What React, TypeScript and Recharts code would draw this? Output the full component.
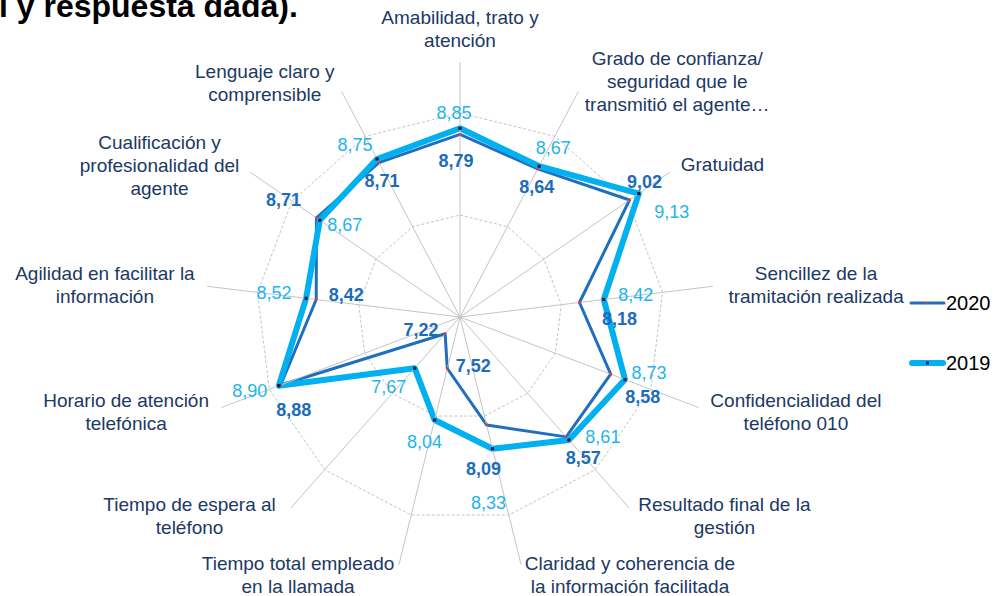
import {
  Legend,
  PolarAngleAxis,
  PolarGrid,
  PolarRadiusAxis,
  Radar,
  RadarChart,
} from "recharts";

const categories = [
  "Amabilidad, trato y\natención",
  "Grado de confianza/\nseguridad que le\ntransmitió el agente…",
  "Gratuidad",
  "Sencillez de la\ntramitación realizada",
  "Confidencialidad del\nteléfono 010",
  "Resultado final de la\ngestión",
  "Claridad y coherencia de\nla información facilitada",
  "Tiempo total empleado\nen la llamada",
  "Tiempo de espera al\nteléfono",
  "Horario de atención\ntelefónica",
  "Agilidad en facilitar la\ninformación",
  "Cualificación y\nprofesionalidad del\nagente",
  "Lenguaje claro y\ncomprensible",
];

const values2020 = [8.79, 8.64, 9.02, 8.18, 8.58, 8.57, 8.09, 7.52, 7.22, 8.88, 8.42, 8.71, 8.71];
const values2019 = [8.85, 8.67, 9.13, 8.42, 8.73, 8.61, 8.33, 8.04, 7.67, 8.9, 8.52, 8.67, 8.75];
const seriesNames = ["2020", "2019"];
const radiusDomain = [7, 10];
const gridValues = [8, 9];

const data = categories.map((name, i) => ({
  name,
  y2020: values2020[i],
  y2019: values2019[i],
}));

const FONT = '"Liberation Sans", Arial, sans-serif';
const NAVY = "#203864";
const LINE_2020 = "#1f6fc0";
const LINE_2019 = "#00b0f0";
const TEXT_2020 = "#1c6cbb";
const TEXT_2019 = "#1fb4ec";
const GRID = "#c4c4c4";

// the radius scale runs 7..10 over OUTER_R; spokes stop at 9.5
const OUTER_R = 306;
const SPOKE_R = 255;
const LABEL_R = 263;

// where the text sits relative to the axis end / the data point
const tickOffsets = [
  [0, -37], [95, -26], [46, -3], [95, -12], [90, -10], [90, -9], [107, -9],
  [-99, -9], [-96, -9], [-88, -10], [-94, -12], [-84, -25], [-73, -13],
];
const offsets2020 = [
  [-4, 27], [-1, 18], [15, -18], [40, 17], [32, 23], [17, 21], [-3, 44],
  [26, -2], [-24, -4], [13, 25], [30, -5], [-33, -18], [3, 18],
];
const offsets2019 = [
  [-6, -15], [14, -18], [33, 18], [32, -5], [24, -7], [34, -3], [-4, 54],
  [-10, 22], [-26, 19], [-29, 5], [-32, -5], [25, 5], [-22, -14],
];

const fmt = (v: number) => v.toFixed(2).replace(".", ",");

function CategoryTick(props: any) {
  const { x, y, cx, cy, index } = props;
  const len = Math.hypot(x - cx, y - cy) || 1;
  const ux = (x - cx) / len;
  const uy = (y - cy) / len;
  const ax = cx + ux * LABEL_R;
  const ay = cy + uy * LABEL_R;
  const [dx, dy] = tickOffsets[index];
  const lines = categories[index].split("\n");
  return (
    <g>
      <line x1={cx} y1={cy} x2={cx + ux * SPOKE_R} y2={cy + uy * SPOKE_R} stroke={GRID} strokeWidth={1} />
      <text textAnchor="middle" fontFamily={FONT} fontSize={19} fill={NAVY}>
        {lines.map((line, k) => (
          <tspan key={k} x={ax + dx} y={ay + dy + k * 23} dominantBaseline="central">
            {line}
          </tspan>
        ))}
      </text>
    </g>
  );
}

function dot2020(props: any) {
  const { cx, cy, index } = props;
  const [dx, dy] = offsets2020[index];
  return (
    <g key={`d2020-${index}`}>
      <circle cx={cx} cy={cy} r={1.4} fill="#e03a3a" />
      <text
        x={cx + dx}
        y={cy + dy}
        textAnchor="middle"
        dominantBaseline="central"
        fontFamily={FONT}
        fontSize={18}
        fontWeight="bold"
        fill={TEXT_2020}
      >
        {fmt(values2020[index])}
      </text>
    </g>
  );
}

function dot2019(props: any) {
  const { cx, cy, index } = props;
  const [dx, dy] = offsets2019[index];
  return (
    <g key={`d2019-${index}`}>
      <rect x={cx - 1.6} y={cy - 1.6} width={3.2} height={3.2} fill="#0d1f4a" />
      <text
        x={cx + dx}
        y={cy + dy}
        textAnchor="middle"
        dominantBaseline="central"
        fontFamily={FONT}
        fontSize={18}
        fill={TEXT_2019}
      >
        {fmt(values2019[index])}
      </text>
    </g>
  );
}

function renderLegend() {
  return (
    <div style={{ fontFamily: FONT, fontSize: 20, color: "#000" }}>
      {seriesNames.map((n, i) => (
        <div
          key={n}
          style={{ display: "flex", alignItems: "center", height: 24, marginBottom: i === 0 ? 36 : 0 }}
        >
          <svg width={37} height={10}>
            {i === 0 ? (
              <>
                <line x1={2} y1={5} x2={35} y2={5} stroke={LINE_2020} strokeWidth={3} strokeLinecap="round" />
                <circle cx={18.5} cy={5} r={1.2} fill="#e03a3a" />
              </>
            ) : (
              <>
                <line x1={3} y1={5} x2={34} y2={5} stroke={LINE_2019} strokeWidth={6} strokeLinecap="round" />
                <rect x={17} y={3.5} width={3} height={3} fill="#0d1f4a" />
              </>
            )}
          </svg>
          <span>{n}</span>
        </div>
      ))}
    </div>
  );
}

export default function App() {
  return (
    <div
      style={{
        position: "fixed",
        left: 0,
        top: 0,
        width: 999,
        height: 596,
        background: "#fff",
        overflow: "hidden",
      }}
    >
      <RadarChart
        width={999}
        height={596}
        cx={460}
        cy={317}
        outerRadius={OUTER_R}
        data={data}
        margin={{ top: 0, right: 0, bottom: 0, left: 0 }}
      >
        <PolarGrid gridType="polygon" radialLines={false} stroke={GRID} strokeDasharray="3 2" />
        <PolarAngleAxis dataKey="name" tick={<CategoryTick />} tickLine={false} axisLine={false} />
        <PolarRadiusAxis
          type="number"
          domain={radiusDomain}
          ticks={gridValues}
          tick={false}
          axisLine={false}
        />
        <Radar
          name={seriesNames[0]}
          dataKey="y2020"
          stroke={LINE_2020}
          strokeWidth={3}
          strokeLinejoin="round"
          fill="none"
          fillOpacity={0}
          dot={dot2020}
          isAnimationActive={false}
        />
        <Radar
          name={seriesNames[1]}
          dataKey="y2019"
          stroke={LINE_2019}
          strokeWidth={6}
          strokeLinejoin="round"
          fill="none"
          fillOpacity={0}
          dot={dot2019}
          isAnimationActive={false}
        />
        <Legend content={renderLegend} wrapperStyle={{ left: 909, top: 291, width: 90 }} />
      </RadarChart>
      <div
        style={{
          position: "absolute",
          left: -1,
          top: -9,
          fontFamily: FONT,
          fontWeight: "bold",
          fontSize: 32,
          lineHeight: "31px",
          whiteSpace: "nowrap",
          color: "#000",
        }}
      >
        l y respuesta dada).
      </div>
    </div>
  );
}
